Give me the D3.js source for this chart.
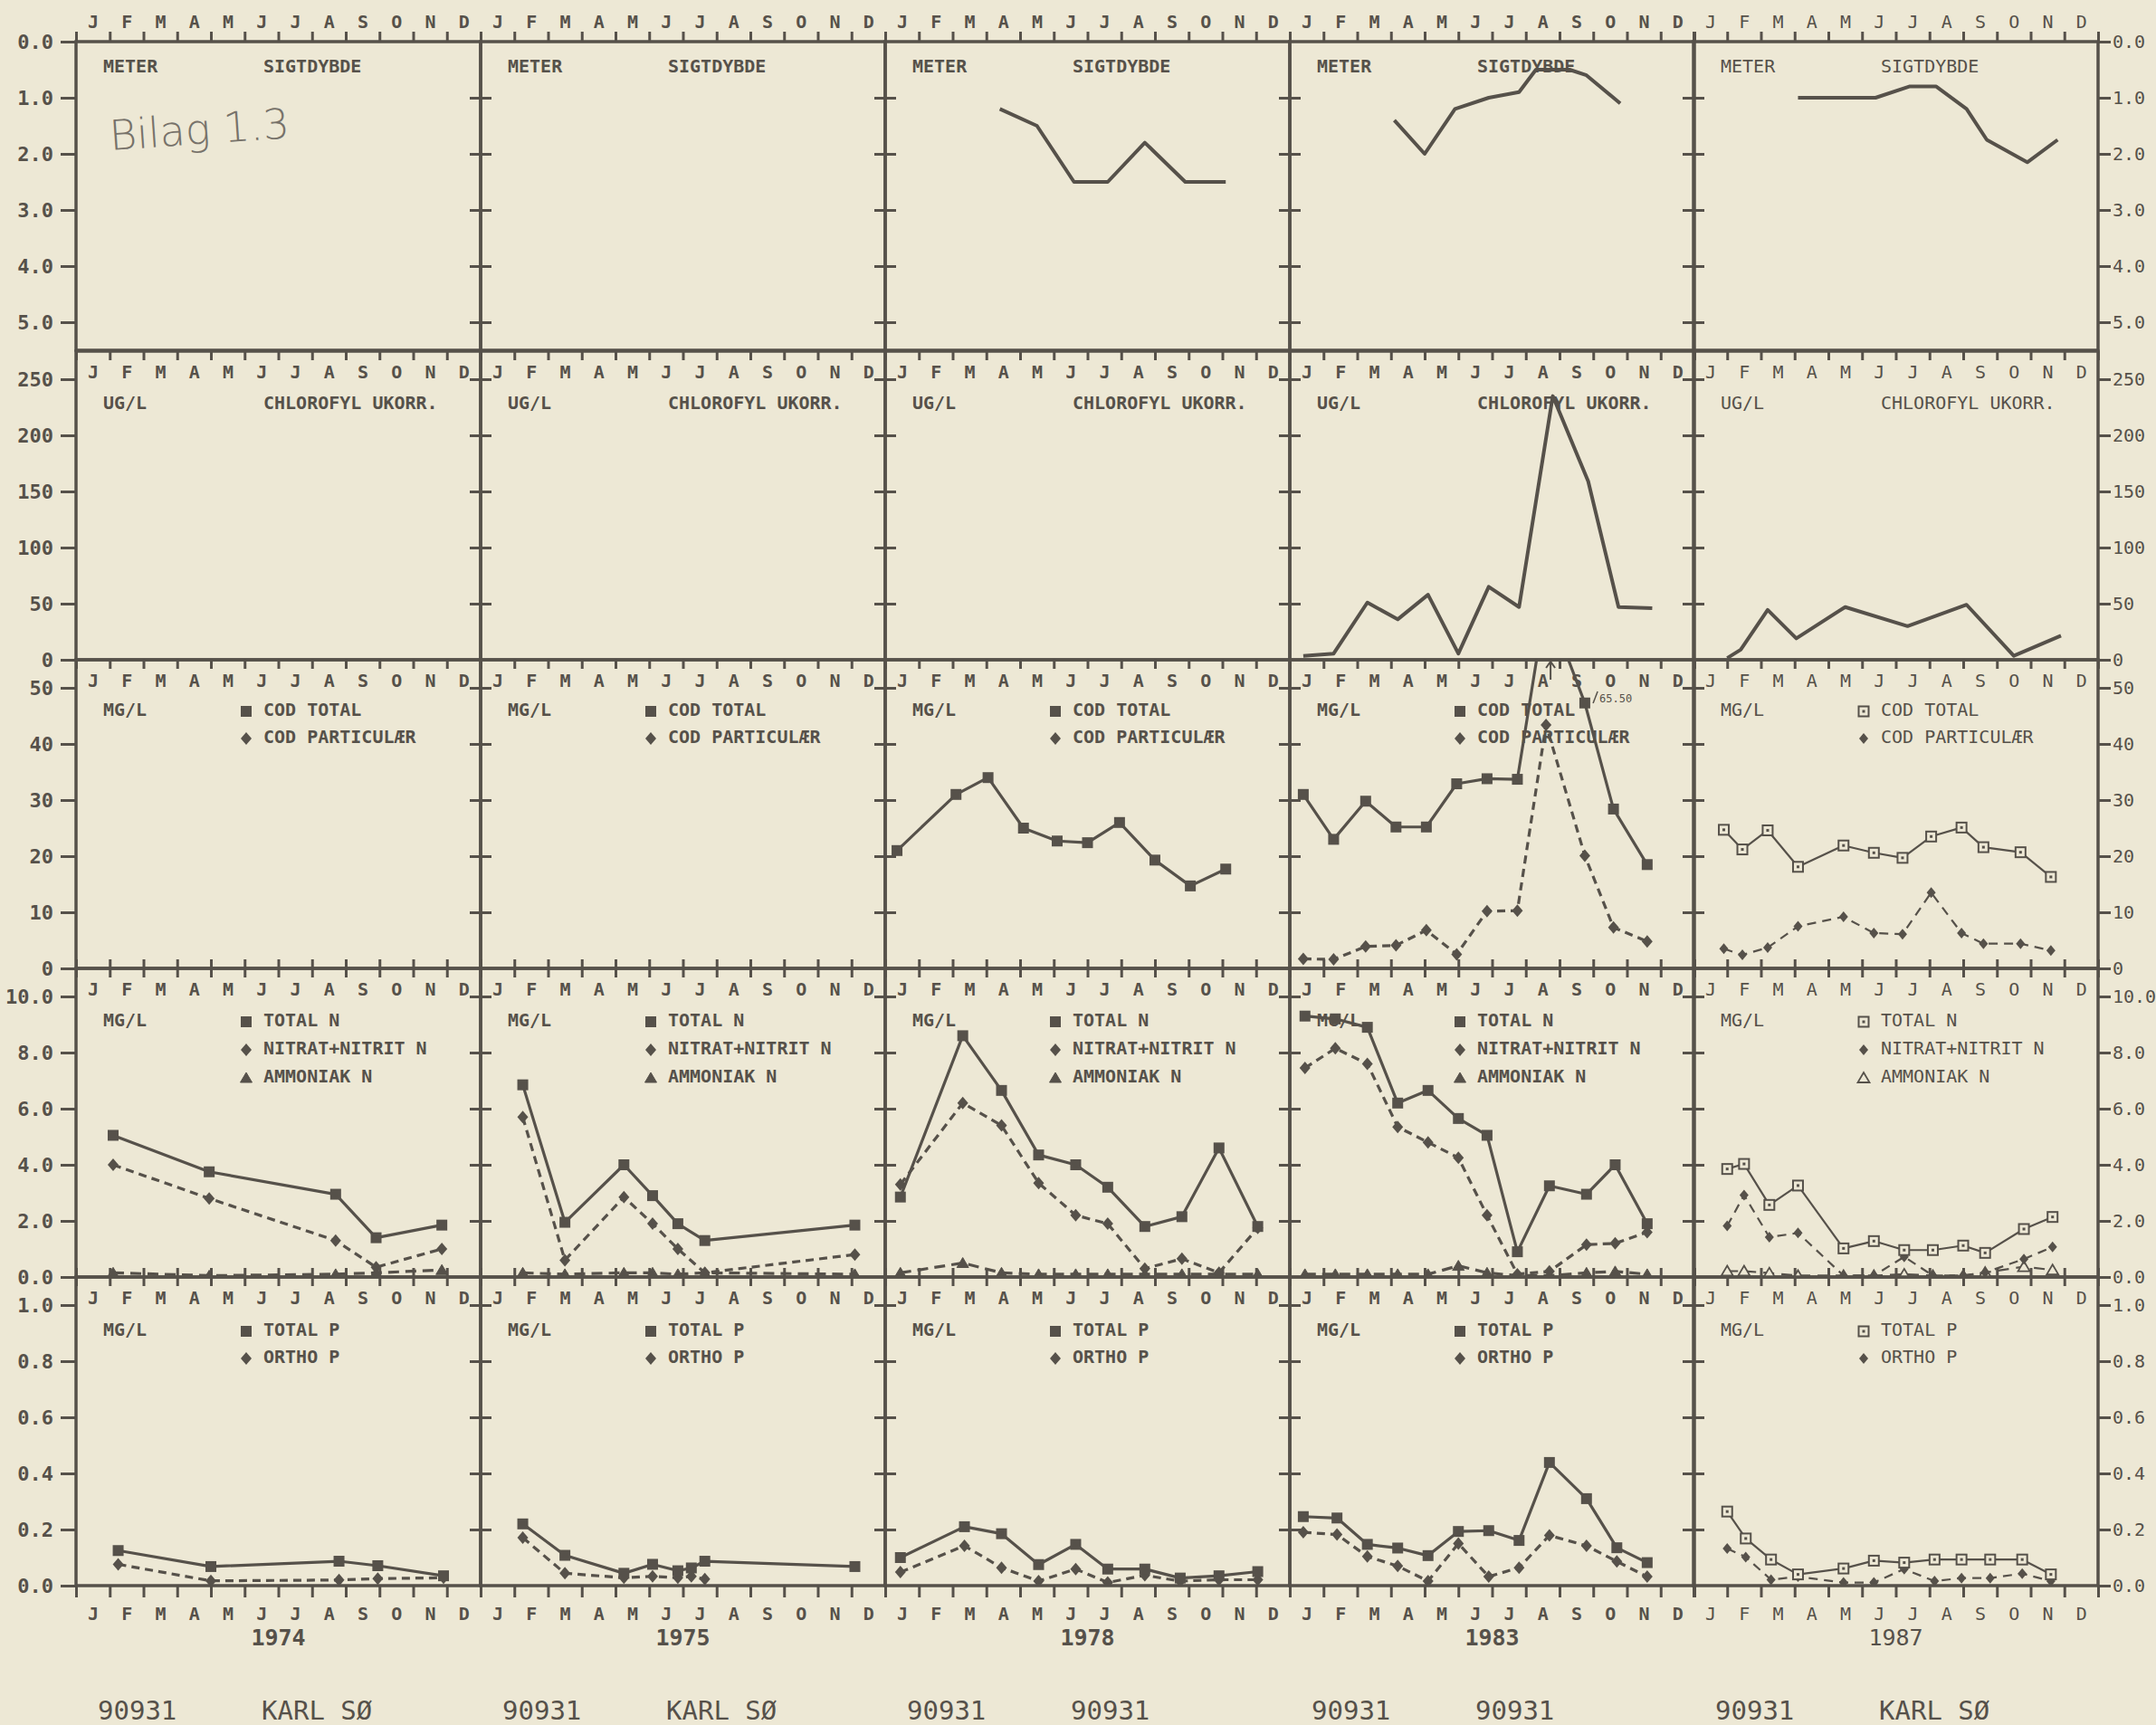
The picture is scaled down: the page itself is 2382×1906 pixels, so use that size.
<!DOCTYPE html>
<html>
<head>
<meta charset="utf-8">
<title>90931 Karl Sø</title>
<script src="https://cdn.jsdelivr.net/npm/d3@7"></script>
<style>
  body { margin: 0; background: #ede8d5; }
  text { font-family: "DejaVu Sans Mono", "Liberation Mono", monospace; }
</style>
</head>
<body>
<svg id="chart"></svg>
<script>
// values (month = fraction of the year, 0 = 1 Jan, 12 = 31 Dec)
const years = ["1974", "1975", "1978", "1983", "1987"];
const monthLetters = ["J", "F", "M", "A", "M", "J", "J", "A", "S", "O", "N", "D"];
const stationIds = ["90931", "90931", "90931", "90931", "90931"];
const stationNames = ["KARL SØ", "KARL SØ", "90931", "90931", "KARL SØ"];

const secchiTicks = [0, 1, 2, 3, 4, 5];
const chlTicks = [0, 50, 100, 150, 200, 250];
const codTicks = [0, 10, 20, 30, 40, 50];
const nTicks = [0, 2, 4, 6, 8, 10];
const pTicks = [0, 0.2, 0.4, 0.6, 0.8, 1.0];

// sigtdybde (meter)
const secchi78Month = [3.4, 4.5, 5.6, 6.6, 7.7, 8.9, 10.1];
const secchi78 = [1.2, 1.5, 2.5, 2.5, 1.8, 2.5, 2.5];
const secchi83Month = [3.1, 4.0, 4.9, 5.9, 6.8, 7.3, 8.3, 8.8, 9.8];
const secchi83 = [1.4, 2.0, 1.2, 1.0, 0.9, 0.5, 0.5, 0.6, 1.1];
const secchi87Month = [3.1, 5.4, 6.4, 7.2, 8.1, 8.7, 9.9, 10.8];
const secchi87 = [1.0, 1.0, 0.8, 0.8, 1.2, 1.75, 2.15, 1.75];

// chlorofyl ukorr. (ug/l)
const chl83Month = [0.4, 1.3, 2.3, 3.2, 4.1, 5.0, 5.9, 6.8, 7.8, 8.85, 9.75, 10.75];
const chl83 = [3.5, 5.5, 51, 36, 58, 5.5, 65, 47, 235, 159, 47, 46];
const chl87Month = [1.0, 1.4, 2.2, 3.05, 4.5, 6.35, 8.1, 9.5, 10.9];
const chl87 = [1.5, 9, 44.5, 19, 47, 30, 49, 3.5, 21.5];

// COD (mg/l)
const cod78Month = [0.35, 2.1, 3.05, 4.1, 5.1, 6.0, 6.95, 8.0, 9.05, 10.1];
const codTotal78 = [21, 31, 34, 25, 22.7, 22.4, 26, 19.3, 14.7, 17.7];
const cod83Month = [0.4, 1.3, 2.25, 3.15, 4.05, 4.95, 5.85, 6.75, 7.6, 8.75, 9.6, 10.6];
const codTotal83 = [31, 23, 29.8, 25.2, 25.2, 32.9, 33.8, 33.7, 65.5, 47.3, 28.4, 18.5];
const codPart83 = [1.7, 1.6, 3.9, 4.1, 6.8, 2.5, 10.2, 10.3, 43.4, 20.1, 7.3, 4.8];
const cod87Month = [0.9, 1.45, 2.2, 3.1, 4.45, 5.35, 6.2, 7.05, 7.95, 8.6, 9.7, 10.6];
const codTotal87 = [24.7, 21.2, 24.6, 18.1, 21.9, 20.6, 19.7, 23.5, 25.1, 21.6, 20.7, 16.3];
const codPart87 = [3.5, 2.4, 3.7, 7.5, 9.2, 6.3, 6.1, 13.5, 6.3, 4.4, 4.4, 3.2];

// nitrogen (mg/l)
const n74Month = [1.1, 3.95, 7.7, 8.9, 10.85];
const totalN74 = [5.05, 3.75, 2.95, 1.4, 1.85];
const nitrat74 = [4.0, 2.8, 1.3, 0.35, 1.0];
const ammon74 = [0.15, 0.05, 0.1, 0.15, 0.25];
const n75Month = [1.25, 2.5, 4.25, 5.1, 5.85, 6.65, 11.1];
const totalN75 = [6.85, 1.95, 4.0, 2.9, 1.9, 1.3, 1.85];
const nitrat75 = [5.7, 0.6, 2.85, 1.9, 1.0, 0.15, 0.8];
const ammon75 = [0.15, 0.1, 0.15, 0.15, 0.1, 0.15, 0.1];
const n78Month = [0.45, 2.3, 3.45, 4.55, 5.65, 6.6, 7.7, 8.8, 9.9, 11.05];
const totalN78 = [2.85, 8.6, 6.65, 4.35, 4.0, 3.2, 1.8, 2.15, 4.6, 1.8];
const nitrat78 = [3.3, 6.2, 5.4, 3.35, 2.2, 1.9, 0.3, 0.65, 0.15, 1.75];
const ammon78 = [0.15, 0.5, 0.15, 0.1, 0.1, 0.1, 0.1, 0.1, 0.1, 0.1];
const n83Month = [0.45, 1.35, 2.3, 3.2, 4.1, 5.0, 5.85, 6.75, 7.7, 8.8, 9.65, 10.6];
const totalN83 = [9.3, 9.2, 8.9, 6.2, 6.65, 5.65, 5.05, 0.9, 3.25, 2.95, 4.0, 1.9];
const nitrat83 = [7.45, 8.15, 7.6, 5.35, 4.8, 4.25, 2.2, 0.1, 0.2, 1.15, 1.2, 1.6];
const ammon83 = [0.1, 0.1, 0.1, 0.1, 0.1, 0.4, 0.15, 0.05, 0.05, 0.15, 0.2, 0.1];
const n87Month = [1.0, 1.5, 2.25, 3.1, 4.45, 5.35, 6.25, 7.1, 8.0, 8.65, 9.8, 10.65];
const totalN87 = [3.85, 4.03, 2.57, 3.26, 1.02, 1.28, 0.96, 0.96, 1.12, 0.86, 1.71, 2.14];
const nitrat87 = [1.82, 2.92, 1.42, 1.57, 0.05, 0.05, 0.72, 0.05, 0.05, 0.16, 0.64, 1.07];
const ammon87 = [0.21, 0.21, 0.14, 0.05, 0.05, 0.05, 0.1, 0.05, 0.05, 0.16, 0.37, 0.25];

// phosphorus (mg/l)
const p74Month = [1.25, 4.0, 7.8, 8.95, 10.9];
const totalP74 = [0.125, 0.068, 0.087, 0.071, 0.035];
const orthoP74 = [0.076, 0.017, 0.02, 0.025, 0.028];
const p75Month = [1.25, 2.5, 4.25, 5.1, 5.85, 6.25, 6.65, 11.1];
const totalP75 = [0.22, 0.108, 0.044, 0.076, 0.053, 0.063, 0.087, 0.068];
const ortho75Month = [1.25, 2.5, 4.25, 5.1, 5.85, 6.25, 6.65];
const orthoP75 = [0.171, 0.044, 0.028, 0.033, 0.028, 0.033, 0.023];
const p78Month = [0.45, 2.35, 3.45, 4.55, 5.65, 6.6, 7.7, 8.75, 9.9, 11.05];
const totalP78 = [0.10, 0.21, 0.185, 0.075, 0.147, 0.059, 0.059, 0.027, 0.035, 0.05];
const orthoP78 = [0.048, 0.142, 0.064, 0.016, 0.059, 0.011, 0.037, 0.016, 0.021, 0.021];
const p83Month = [0.4, 1.4, 2.3, 3.2, 4.1, 5.0, 5.9, 6.8, 7.7, 8.8, 9.7, 10.6];
const totalP83 = [0.246, 0.241, 0.147, 0.134, 0.107, 0.193, 0.196, 0.161, 0.439, 0.31, 0.135, 0.082];
const orthoP83 = [0.19, 0.182, 0.104, 0.07, 0.016, 0.15, 0.032, 0.064, 0.179, 0.142, 0.086, 0.032];
const p87Month = [1.0, 1.55, 2.3, 3.1, 4.45, 5.35, 6.25, 7.15, 7.95, 8.8, 9.75, 10.6];
const totalP87 = [0.264, 0.168, 0.093, 0.04, 0.061, 0.089, 0.082, 0.093, 0.093, 0.093, 0.093, 0.04];
const orthoP87 = [0.132, 0.102, 0.021, 0.032, 0.011, 0.011, 0.059, 0.016, 0.027, 0.027, 0.043, 0.016];

// ---- layout ----
const W = 2382, H = 1906;
const colLeft = [84, 531, 978, 1425, 1871];
const colW = 447;
const rowTop = [46, 388, 729, 1070, 1411];
const rowH = 341;
const INK = "#56514a";
const PAPER = "#ede8d5";

const rowDefs = [
  { max: 5.5, ticks: secchiTicks, fmt: d3.format(".1f"), flip: true,
    unit: "METER", labels: ["SIGTDYBDE"], kinds: [], legendY: [34] },
  { max: 275, ticks: chlTicks, fmt: d3.format("d"),
    unit: "UG/L", labels: ["CHLOROFYL UKORR."], kinds: [], legendY: [64] },
  { max: 55, ticks: codTicks, fmt: d3.format("d"),
    unit: "MG/L", labels: ["COD TOTAL", "COD PARTICULÆR"], kinds: ["total", "part"], legendY: [62, 92] },
  { max: 11, ticks: nTicks, fmt: d3.format(".1f"),
    unit: "MG/L", labels: ["TOTAL N", "NITRAT+NITRIT N", "AMMONIAK N"], kinds: ["total", "part", "ammon"], legendY: [64, 95, 126] },
  { max: 1.1, ticks: pTicks, fmt: d3.format(".1f"),
    unit: "MG/L", labels: ["TOTAL P", "ORTHO P"], kinds: ["total", "part"], legendY: [65, 95] }
];

const panelSeries = [
  { col: 2, row: 0, kind: "plain", m: secchi78Month, v: secchi78 },
  { col: 3, row: 0, kind: "plain", m: secchi83Month, v: secchi83 },
  { col: 4, row: 0, kind: "plain", m: secchi87Month, v: secchi87 },
  { col: 3, row: 1, kind: "plain", m: chl83Month, v: chl83 },
  { col: 4, row: 1, kind: "plain", m: chl87Month, v: chl87 },
  { col: 2, row: 2, kind: "total", m: cod78Month, v: codTotal78 },
  { col: 3, row: 2, kind: "part", m: cod83Month, v: codPart83 },
  { col: 3, row: 2, kind: "total", m: cod83Month, v: codTotal83 },
  { col: 4, row: 2, kind: "part", m: cod87Month, v: codPart87 },
  { col: 4, row: 2, kind: "total", m: cod87Month, v: codTotal87 },
  { col: 0, row: 3, kind: "ammon", m: n74Month, v: ammon74 },
  { col: 0, row: 3, kind: "part", m: n74Month, v: nitrat74 },
  { col: 0, row: 3, kind: "total", m: n74Month, v: totalN74 },
  { col: 1, row: 3, kind: "ammon", m: n75Month, v: ammon75 },
  { col: 1, row: 3, kind: "part", m: n75Month, v: nitrat75 },
  { col: 1, row: 3, kind: "total", m: n75Month, v: totalN75 },
  { col: 2, row: 3, kind: "ammon", m: n78Month, v: ammon78 },
  { col: 2, row: 3, kind: "part", m: n78Month, v: nitrat78 },
  { col: 2, row: 3, kind: "total", m: n78Month, v: totalN78 },
  { col: 3, row: 3, kind: "ammon", m: n83Month, v: ammon83 },
  { col: 3, row: 3, kind: "part", m: n83Month, v: nitrat83 },
  { col: 3, row: 3, kind: "total", m: n83Month, v: totalN83 },
  { col: 4, row: 3, kind: "ammon", m: n87Month, v: ammon87 },
  { col: 4, row: 3, kind: "part", m: n87Month, v: nitrat87 },
  { col: 4, row: 3, kind: "total", m: n87Month, v: totalN87 },
  { col: 0, row: 4, kind: "part", m: p74Month, v: orthoP74 },
  { col: 0, row: 4, kind: "total", m: p74Month, v: totalP74 },
  { col: 1, row: 4, kind: "part", m: ortho75Month, v: orthoP75 },
  { col: 1, row: 4, kind: "total", m: p75Month, v: totalP75 },
  { col: 2, row: 4, kind: "part", m: p78Month, v: orthoP78 },
  { col: 2, row: 4, kind: "total", m: p78Month, v: totalP78 },
  { col: 3, row: 4, kind: "part", m: p83Month, v: orthoP83 },
  { col: 3, row: 4, kind: "total", m: p83Month, v: totalP83 },
  { col: 4, row: 4, kind: "part", m: p87Month, v: orthoP87 },
  { col: 4, row: 4, kind: "total", m: p87Month, v: totalP87 }
];

const svg = d3.select("#chart").attr("width", W).attr("height", H);
svg.append("rect").attr("width", W).attr("height", H).attr("fill", PAPER);
const defs = svg.append("defs");

const xs = colLeft.map(L => d3.scaleLinear().domain([0, 12]).range([L, L + colW]));
const isNew = c => c === 4;   // 1987 was drawn on a newer, thinner plotter

function styleAxis(g, size, weight) {
  g.select(".domain").remove();
  g.selectAll("line").attr("stroke", INK).attr("stroke-width", 3);
  g.selectAll("text").attr("fill", INK).attr("font-size", size)
    .attr("font-weight", weight).style("font-family", '"DejaVu Sans Mono", monospace');
  return g;
}

function marker(g, kind, thin, cx, cy) {
  if (kind === "total") {
    if (thin) {
      g.append("rect").attr("x", cx - 5.5).attr("y", cy - 5.5).attr("width", 11).attr("height", 11)
        .attr("fill", PAPER).attr("stroke", INK).attr("stroke-width", 2);
      g.append("rect").attr("x", cx - 1.5).attr("y", cy - 1.5).attr("width", 3).attr("height", 3).attr("fill", INK);
    } else {
      g.append("rect").attr("x", cx - 6).attr("y", cy - 6).attr("width", 12).attr("height", 12).attr("fill", INK);
    }
  } else if (kind === "part") {
    g.append("path").attr("transform", `translate(${cx},${cy})`)
      .attr("d", thin ? "M0,-6L5,0L0,6L-5,0Z" : "M0,-7L6,0L0,7L-6,0Z").attr("fill", INK);
  } else {
    g.append("path").attr("transform", `translate(${cx},${cy})`)
      .attr("d", "M0,-6L6.5,5L-6.5,5Z")
      .attr("fill", thin ? PAPER : INK).attr("stroke", INK).attr("stroke-width", thin ? 1.8 : 1);
  }
}

function dashFor(kind, thin) {
  if (kind === "part") return thin ? "10,7" : "9,6";
  if (kind === "ammon") return thin ? "12,8" : "12,7";
  return null;
}

rowDefs.forEach((rd, r) => {
  const top = rowTop[r], bottom = top + rowH;
  const y = d3.scaleLinear().domain([0, rd.max]).range(rd.flip ? [top, bottom] : [bottom, top]);

  // outer value axes
  styleAxis(svg.append("g").attr("transform", `translate(${colLeft[0]},0)`)
    .call(d3.axisLeft(y).tickValues(rd.ticks).tickFormat(rd.fmt).tickSize(17).tickPadding(8)), 22, "bold");
  styleAxis(svg.append("g").attr("transform", `translate(${colLeft[0] + 5 * colW},0)`)
    .call(d3.axisRight(y).tickValues(rd.ticks).tickFormat(rd.fmt).tickSize(13).tickPadding(2)), 20, "normal");

  // ticks crossing the inner column borders
  for (let c = 1; c < 5; c++) {
    const inner = rd.ticks.filter(t => t !== 0);
    styleAxis(svg.append("g").attr("transform", `translate(${colLeft[c]},0)`)
      .call(d3.axisLeft(y).tickValues(inner).tickFormat("").tickSize(12)), 10, "normal");
    styleAxis(svg.append("g").attr("transform", `translate(${colLeft[c]},0)`)
      .call(d3.axisRight(y).tickValues(inner).tickFormat("").tickSize(12)), 10, "normal");
  }

  years.forEach((yr, c) => {
    const x = xs[c];
    const L = colLeft[c];
    const thin = isNew(c);
    const weight = thin ? "normal" : "bold";
    const monthBounds = d3.range(13);
    const monthMids = d3.range(12).map(i => i + 0.5);
    const letterFmt = v => monthLetters[Math.floor(v)];

    // month ticks and letters
    if (r === 0) {
      styleAxis(svg.append("g").attr("transform", `translate(0,${top})`)
        .call(d3.axisTop(x).tickValues(monthBounds).tickFormat("").tickSize(11)), 10, weight);
      styleAxis(svg.append("g").attr("transform", `translate(0,${top})`)
        .call(d3.axisTop(x).tickValues(monthMids).tickFormat(letterFmt).tickSize(0).tickPadding(15)), 20, weight);
    } else {
      styleAxis(svg.append("g").attr("transform", `translate(0,${top})`)
        .call(d3.axisBottom(x).tickValues(monthBounds).tickFormat("").tickSize(10)), 10, weight);
      styleAxis(svg.append("g").attr("transform", `translate(0,${top})`)
        .call(d3.axisBottom(x).tickValues(monthMids).tickFormat(letterFmt).tickSize(0).tickPadding(16)), 20, weight);
    }
    if (r === 2 || r === 3) {
      styleAxis(svg.append("g").attr("transform", `translate(0,${bottom})`)
        .call(d3.axisTop(x).tickValues(monthBounds).tickFormat("").tickSize(10)), 10, weight);
    }
    if (r === 4) {
      styleAxis(svg.append("g").attr("transform", `translate(0,${bottom})`)
        .call(d3.axisBottom(x).tickValues(monthBounds).tickFormat("").tickSize(13)), 10, weight);
      styleAxis(svg.append("g").attr("transform", `translate(0,${bottom})`)
        .call(d3.axisBottom(x).tickValues(monthMids).tickFormat(letterFmt).tickSize(0).tickPadding(24)), 20, weight);
    }

    // panel frame
    svg.append("rect").attr("x", L).attr("y", top).attr("width", colW).attr("height", rowH)
      .attr("fill", "none").attr("stroke", INK).attr("stroke-width", 3.5);

    // legend
    const lg = svg.append("g").attr("fill", INK).attr("font-size", 20).attr("font-weight", weight);
    lg.append("text").attr("x", L + 30).attr("y", top + rd.legendY[0]).text(rd.unit);
    rd.labels.forEach((lab, i) => {
      lg.append("text").attr("x", L + 207).attr("y", top + rd.legendY[i]).text(lab);
      if (rd.kinds[i]) marker(lg, rd.kinds[i], thin, L + 188, top + rd.legendY[i] - 5);
    });

    // data
    const clipId = `clip-${r}-${c}`;
    defs.append("clipPath").attr("id", clipId).append("rect")
      .attr("x", L).attr("y", top).attr("width", colW).attr("height", rowH);
    const layer = svg.append("g").attr("clip-path", `url(#${clipId})`);
    panelSeries.filter(s => s.row === r && s.col === c).forEach(s => {
      const pts = s.m.map((m, i) => [m, s.v[i]]);
      layer.append("path").datum(pts)
        .attr("d", d3.line().x(d => x(d[0])).y(d => y(d[1])))
        .attr("fill", "none").attr("stroke", INK)
        .attr("stroke-width", s.kind === "plain" ? 4 : (thin ? 2.2 : 3.2))
        .attr("stroke-linejoin", "round")
        .attr("stroke-dasharray", dashFor(s.kind, thin));
      if (s.kind !== "plain") {
        pts.forEach(d => marker(layer, s.kind, thin, x(d[0]), y(d[1])));
      }
      // off-scale value: arrow at the top and the value written beside it
      pts.filter(d => d[1] > rd.max).forEach(d => {
        const px = x(d[0]);
        svg.append("path").attr("d", `M${px + 5},${top + 22}V${top + 3}M${px},${top + 9}L${px + 5},${top + 2}L${px + 10},${top + 9}`)
          .attr("fill", "none").attr("stroke", INK).attr("stroke-width", 2);
        svg.append("path").attr("d", `M${px + 52},${top + 48}L${px + 57},${top + 35}`)
          .attr("stroke", INK).attr("stroke-width", 1.5);
        svg.append("text").attr("x", px + 59).attr("y", top + 47).attr("font-size", 12)
          .attr("fill", INK).text(d3.format(".2f")(d[1]));
      });
    });
  });
});

// year and station captions under the columns
years.forEach((yr, c) => {
  const L = colLeft[c];
  const weight = isNew(c) ? "normal" : "bold";
  svg.append("text").attr("x", L + colW / 2).attr("y", 1818).attr("text-anchor", "middle")
    .attr("font-size", 25).attr("font-weight", weight).attr("fill", INK).text(yr);
  svg.append("text").attr("x", L + 24).attr("y", 1900).attr("font-size", 29)
    .attr("fill", INK).text(stationIds[c]);
  svg.append("text").attr("x", L + 205).attr("y", 1900).attr("font-size", 29)
    .attr("fill", INK).text(stationNames[c]);
});

// handwritten note in the first panel
svg.append("text").attr("x", 122).attr("y", 166)
  .attr("font-size", 46).attr("font-weight", 200)
  .style("font-family", '"DejaVu Sans", sans-serif')
  .attr("fill", "#77726a").attr("transform", "rotate(-4,122,166)")
  .text("Bilag 1.3");
</script>
</body>
</html>
